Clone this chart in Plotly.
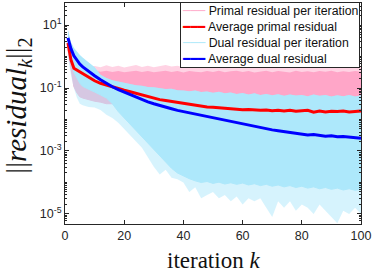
import numpy as np
import plotly.graph_objects as go

iterations = [1, 2, 3, 4, 5, 6] + list(range(8, 101, 2))

# all values are log10(residual)
avg_primal_log10 = [0.43, -0.10, -0.37, -0.43, -0.49, -0.55,
    -0.67, -0.77, -0.85, -0.91, -0.97, -1.02, -1.07, -1.12, -1.17, -1.22, -1.27, -1.33,
    -1.37, -1.40, -1.43, -1.47, -1.50, -1.52, -1.55, -1.57, -1.60, -1.61, -1.63, -1.65,
    -1.66, -1.68, -1.69, -1.68, -1.70, -1.71, -1.70, -1.72, -1.71, -1.73, -1.71, -1.74,
    -1.72, -1.71, -1.77, -1.73, -1.76, -1.74, -1.75, -1.73, -1.76, -1.74, -1.73]

avg_dual_log10 = [0.59, 0.25, 0.02, -0.13, -0.24, -0.33,
    -0.48, -0.61, -0.74, -0.86, -0.96, -1.05, -1.13, -1.21, -1.29, -1.37, -1.44, -1.50,
    -1.56, -1.61, -1.66, -1.71, -1.75, -1.79, -1.83, -1.87, -1.91, -1.95, -1.99, -2.02,
    -2.06, -2.10, -2.14, -2.18, -2.22, -2.26, -2.30, -2.33, -2.36, -2.39, -2.42, -2.44,
    -2.46, -2.49, -2.48, -2.51, -2.53, -2.52, -2.55, -2.54, -2.56, -2.56, -2.60]

# envelope of the per-iteration primal residual curves
primal_outer_upper_log10 = [0.55, 0.20, -0.15, -0.25, -0.30, -0.33,
    -0.35, -0.30, -0.34, -0.28, -0.33, -0.29, -0.35, -0.30, -0.27, -0.33, -0.29, -0.34,
    -0.30, -0.27, -0.32, -0.29, -0.35, -0.28, -0.31, -0.34, -0.29, -0.32, -0.28, -0.33,
    -0.30, -0.27, -0.32, -0.29, -0.34, -0.30, -0.28, -0.33, -0.29, -0.31, -0.35, -0.28,
    -0.32, -0.30, -0.34, -0.29, -0.31, -0.28, -0.33, -0.30, -0.32, -0.29, -0.31]
primal_core_upper_log10 = [0.42, 0.02, -0.28, -0.36, -0.40, -0.43,
    -0.47, -0.45, -0.48, -0.45, -0.49, -0.46, -0.50, -0.47, -0.45, -0.49, -0.46, -0.50,
    -0.47, -0.45, -0.49, -0.46, -0.51, -0.46, -0.48, -0.50, -0.46, -0.49, -0.45, -0.50,
    -0.47, -0.45, -0.49, -0.46, -0.51, -0.47, -0.45, -0.50, -0.46, -0.48, -0.51, -0.45,
    -0.49, -0.47, -0.50, -0.46, -0.48, -0.45, -0.50, -0.47, -0.49, -0.46, -0.48]
primal_lower_log10 = [0.22, -0.45, -0.95, -1.15, -1.28, -1.32,
    -1.38, -1.42, -1.45] + [-1.50] * 44

# envelope of the per-iteration dual residual curves
dual_upper_log10 = [0.84, 0.45, 0.27, 0.15, 0.05, -0.04,
    -0.20, -0.34, -0.58, -0.68, -0.75, -0.79, -0.84, -0.86, -0.91, -0.93, -0.97, -0.98,
    -1.01, -1.03, -1.02, -1.07, -1.08, -1.10, -1.08, -1.13, -1.11, -1.15, -1.12, -1.17,
    -1.14, -1.19, -1.16, -1.21, -1.17, -1.22, -1.19, -1.23, -1.20, -1.25, -1.21, -1.24,
    -1.22, -1.26, -1.21, -1.25, -1.22, -1.27, -1.23, -1.26, -1.22, -1.27, -1.24]
dual_core_lower_log10 = [0.25, -0.20, -0.50, -0.70, -0.85, -0.95,
    -1.05, -1.13, -1.22, -1.32, -1.50, -1.75, -1.95, -2.15, -2.35, -2.55, -2.75, -2.95,
    -3.15, -3.35, -3.55, -3.70, -3.80, -3.88, -3.95, -4.00, -3.97, -4.03, -3.99, -4.05,
    -4.01, -4.06, -4.02, -4.08, -4.04, -4.10, -4.06, -4.12, -4.08, -4.14, -4.10, -4.16,
    -4.12, -4.18, -4.14, -4.20, -4.16, -4.22, -4.18, -4.24, -4.20, -4.25, -4.22]
dual_outer_lower_log10 = [0.0, -0.6, -1.0, -1.3, -1.5, -1.55,
    -1.6, -1.62, -1.7, -1.85, -1.95, -2.1, -2.3, -2.5, -2.7, -2.9, -3.2, -3.5,
    -3.75, -3.6, -3.85, -3.9, -4.0, -4.3, -4.15, -4.5, -4.4, -4.3, -4.5, -4.4,
    -4.6, -4.45, -4.7, -4.5, -4.6, -4.5, -4.8, -5.1, -4.6, -4.8, -4.6, -4.9,
    -4.7, -4.8, -5.0, -4.7, -4.9, -5.1, -5.3, -4.9, -5.0, -4.8, -5.0]

for arr in [avg_primal_log10, avg_dual_log10, primal_outer_upper_log10, primal_core_upper_log10,
            primal_lower_log10, dual_upper_log10, dual_core_lower_log10, dual_outer_lower_log10]:
    assert len(arr) == len(iterations), len(arr)

ytick_exponents = [-5, -3, -1, 1]
ytick_labels = ["10<sup>-5</sup>", "10<sup>-3</sup>", "10<sup>-1</sup>", "10<sup>1</sup>"]
xtick_values = [0, 20, 40, 60, 80, 100]
legend_labels = ["Primal residual per iteration", "Average primal residual",
                 "Dual residual per iteration", "Average dual residual"]

def lin(a):
    return np.power(10.0, np.array(a))

PINK = "#ffa6c8"
PINK_LIGHT = "#ffd3e4"
CYAN = "#ade8fb"
CYAN_LIGHT = "rgba(173,232,251,0.5)"
RED = "#ff0000"
BLUE = "#0000ff"
AX = "#262626"

fig = go.Figure()

# primal band (outer, lighter)
fig.add_trace(go.Scatter(x=iterations, y=lin(primal_lower_log10), mode="lines",
                         line=dict(width=0, color=PINK_LIGHT), showlegend=False, hoverinfo="skip"))
fig.add_trace(go.Scatter(x=iterations, y=lin(primal_outer_upper_log10), mode="lines", fill="tonexty",
                         fillcolor=PINK_LIGHT, line=dict(width=0), showlegend=False, hoverinfo="skip"))
# primal band (core)
fig.add_trace(go.Scatter(x=iterations, y=lin(primal_lower_log10), mode="lines",
                         line=dict(width=1, color=PINK), name=legend_labels[0]))
fig.add_trace(go.Scatter(x=iterations, y=lin(primal_core_upper_log10), mode="lines", fill="tonexty",
                         fillcolor=PINK, line=dict(width=0), showlegend=False, hoverinfo="skip"))
# dual band (outer, sparse)
fig.add_trace(go.Scatter(x=iterations, y=lin(dual_outer_lower_log10), mode="lines",
                         line=dict(width=0), showlegend=False, hoverinfo="skip"))
fig.add_trace(go.Scatter(x=iterations, y=lin(dual_upper_log10), mode="lines", fill="tonexty",
                         fillcolor=CYAN_LIGHT, line=dict(width=0), showlegend=False, hoverinfo="skip"))
# dual band (core)
fig.add_trace(go.Scatter(x=iterations, y=lin(dual_core_lower_log10), mode="lines",
                         line=dict(width=1, color=CYAN), name=legend_labels[2]))
fig.add_trace(go.Scatter(x=iterations, y=lin(dual_upper_log10), mode="lines", fill="tonexty",
                         fillcolor=CYAN, line=dict(width=0), showlegend=False, hoverinfo="skip"))
# averages
fig.add_trace(go.Scatter(x=iterations, y=lin(avg_primal_log10), mode="lines",
                         line=dict(width=3, color=RED), name=legend_labels[1]))
fig.add_trace(go.Scatter(x=iterations, y=lin(avg_dual_log10), mode="lines",
                         line=dict(width=3, color=BLUE), name=legend_labels[3]))

# compact MATLAB-style legend: one boxed annotation, line samples drawn as box-drawing glyphs
samples = [("#ffb3cf", "\u2500\u2500\u2500"), (RED, "\u2501\u2501\u2501"),
           ("#b5ebfa", "\u2500\u2500\u2500"), (BLUE, "\u2501\u2501\u2501")]
legend_rows = []
for (c, g), lbl in zip(samples, legend_labels):
    legend_rows.append('<span style="color:%s;font-family:DejaVu Sans">%s</span> %s' % (c, g, lbl))
legend_text = "<br>".join(legend_rows)

annotations = [
    dict(text=legend_text, xref="paper", yref="paper", x=0.390, y=1.006, xanchor="left",
         yanchor="top", align="left", showarrow=False, bgcolor="white", bordercolor=AX,
         borderwidth=1, borderpad=1,
         font=dict(family="Liberation Sans, Arial, sans-serif", size=12.3, color="#111111")),
    dict(text="iteration <i>k</i>", xref="paper", yref="paper", x=0.5, y=-0.165,
         xanchor="center", yanchor="middle", showarrow=False,
         font=dict(family="Liberation Serif, serif", size=23, color="#111111")),
    dict(text="||<i>residual</i><sub><i>k</i></sub>||<sub>2</sub>", xref="paper", yref="paper",
         x=-0.16, y=0.534, xanchor="center", yanchor="middle", textangle=-90, showarrow=False,
         font=dict(family="Liberation Serif, serif", size=29, color="#111111")),
]

minor_vals = [m * 10.0 ** d for d in range(-6, 2) for m in range(2, 10)] + \
             [10.0 ** e for e in [-4, -2, 0]]
fig.update_layout(
    width=374, height=272,
    margin=dict(l=65, r=13, t=3, b=48),
    paper_bgcolor="white", plot_bgcolor="white",
    font=dict(family="Liberation Sans, Arial, sans-serif", size=12.5, color=AX),
    showlegend=False,
    xaxis=dict(range=[0, 100], tickvals=xtick_values, ticks="inside", ticklen=4,
               tickcolor=AX, showline=True, linecolor=AX, linewidth=1, mirror="allticks",
               showgrid=False, zeroline=False),
    yaxis=dict(type="log", range=[-5.32, 1.70],
               tickvals=[10.0 ** e for e in ytick_exponents], ticktext=ytick_labels,
               ticks="inside", ticklen=4, tickcolor=AX, showline=True, linecolor=AX, linewidth=1,
               mirror="allticks", showgrid=False, zeroline=False,
               minor=dict(tickvals=minor_vals, ticks="inside", ticklen=2, tickcolor=AX, showgrid=False)),
    annotations=annotations,
)

fig.write_html("out.html", config={"displayModeBar": False},
               post_script="document.body.style.margin='0';")
